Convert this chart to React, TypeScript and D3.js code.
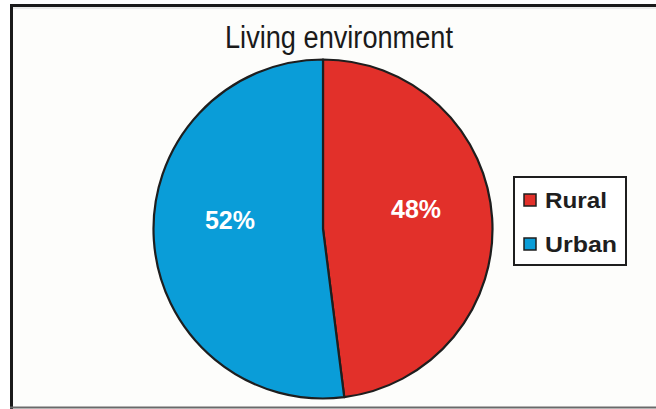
import React from "react";
import * as d3 from "d3";

const title = "Living environment";
const categories = ["Rural", "Urban"];
const values = [48, 52];
const colors = ["#E2302A", "#0A9DD8"];

const W = 656;
const H = 409;

export default function App() {
  const cx = 323;
  const cy = 229;
  const r = 169.5;
  const pie = d3.pie<number>().sort(null).value((d) => d)(values);
  const arc = d3.arc<d3.PieArcDatum<number>>().innerRadius(0).outerRadius(r);
  const labelArc = d3.arc<d3.PieArcDatum<number>>().innerRadius(r * 0.55).outerRadius(r * 0.55);
  const total = d3.sum(values);

  const legendY = d3.scaleBand<string>().domain(categories).range([178, 266]).paddingOuter(0);

  return (
    <div style={{ position: "fixed", left: 0, top: 0, width: W, height: H, background: "#fff" }}>
      <svg width={W} height={H} style={{ display: "block" }}>
        <rect x={10} y={4} width={W - 10} height={H - 4} fill="#FDFDFB" />
        <line x1={10} y1={5.5} x2={W} y2={5.5} stroke="#1a1a1a" strokeWidth={3} />
        <line x1={11.5} y1={4} x2={11.5} y2={H} stroke="#1a1a1a" strokeWidth={3} />
        <line x1={13} y1={8} x2={W} y2={8} stroke="#d8d8d8" strokeWidth={1} />
        <line x1={10} y1={407.5} x2={W} y2={407.5} stroke="#6a6a6a" strokeWidth={2} />

        <text
          x={339}
          y={48}
          textAnchor="middle"
          fontFamily="'Liberation Sans', Arial, sans-serif"
          fontSize={31}
          textLength={228}
          lengthAdjust="spacingAndGlyphs"
          fill="#1a1a1a"
        >
          {title}
        </text>

        <g transform={`translate(${cx},${cy})`}>
          {pie.map((p, i) => (
            <path key={i} d={arc(p) || ""} fill={colors[i]} stroke="#1e1e1e" strokeWidth={2.2} strokeLinejoin="round" />
          ))}
          {pie.map((p, i) => {
            const [lx, ly] = labelArc.centroid(p);
            return (
              <text
                key={"l" + i}
                x={lx}
                y={ly - 15}
                dy="0.36em"
                textAnchor="middle"
                fontFamily="'Liberation Sans', Arial, sans-serif"
                fontWeight="bold"
                fontSize={26}
                textLength={50}
                lengthAdjust="spacingAndGlyphs"
                fill="#ffffff"
              >
                {Math.round((values[i] / total) * 100)}%
              </text>
            );
          })}
        </g>

        <rect x={514} y={177} width={112} height={88} fill="#ffffff" stroke="#1e1e1e" strokeWidth={2} />
        {categories.map((c, i) => {
          const y = (legendY(c) as number) + legendY.bandwidth() / 2;
          return (
            <g key={c}>
              <rect x={524} y={y - 6} width={12} height={12} fill={colors[i]} stroke="#1e1e1e" strokeWidth={1.5} />
              <text
                x={545}
                y={y}
                dy="0.36em"
                fontFamily="'Liberation Sans', Arial, sans-serif"
                fontWeight="bold"
                fontSize={22}
                textLength={c === "Rural" ? 62 : 72}
                lengthAdjust="spacingAndGlyphs"
                fill="#1e1e1e"
              >
                {c}
              </text>
            </g>
          );
        })}
      </svg>
    </div>
  );
}
